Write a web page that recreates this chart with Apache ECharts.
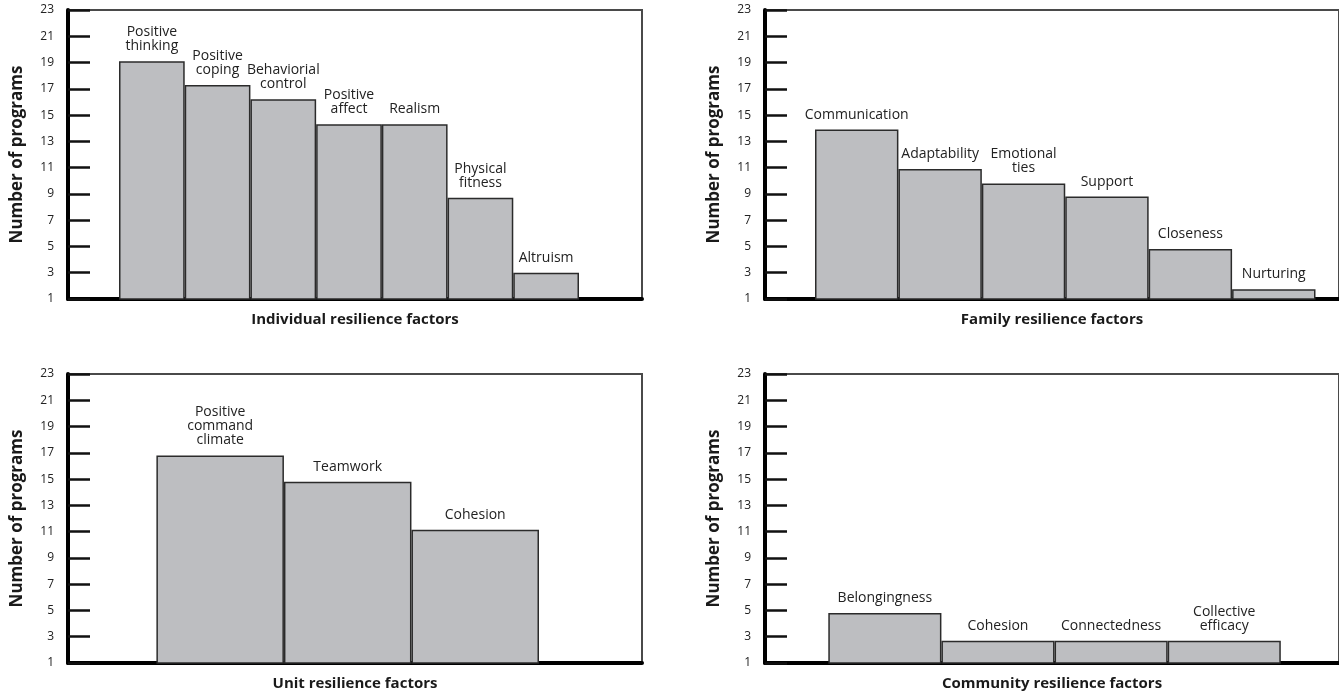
<!DOCTYPE html>
<html>
<head>
<meta charset="utf-8">
<script src="https://cdn.jsdelivr.net/npm/echarts@6/dist/echarts.min.js"></script>
<style>
    html, body { margin: 0; padding: 0; background: #fff; }
    #chart { width: 1339px; height: 693px; }
</style>
</head>
<body>
<div id="chart"></div>
<script>
// 数据
const individualFactors = ["Positive\nthinking", "Positive\ncoping", "Behaviorial\ncontrol", "Positive\naffect", "Realism", "Physical\nfitness", "Altruism"];
const individualCounts = [19.1, 17.3, 16.2, 14.3, 14.3, 8.7, 3.0];

const familyFactors = ["Communication", "Adaptability", "Emotional\nties", "Support", "Closeness", "Nurturing"];
const familyCounts = [13.9, 10.9, 9.8, 8.8, 4.8, 1.75];

const unitFactors = ["Positive\ncommand\nclimate", "Teamwork", "Cohesion"];
const unitCounts = [16.8, 14.8, 11.15];

const communityFactors = ["Belongingness", "Cohesion", "Connectedness", "Collective\nefficacy"];
const communityCounts = [4.8, 2.7, 2.7, 2.7];

const yMin = 1;
const yMax = 23;
const yStep = 2;
const yName = "Number of programs";

let chart = echarts.init(document.getElementById("chart"));

let grids = [];
let xAxes = [];
let yAxes = [];
let series = [];

// frame: outer grid, bars: inner grid
function addPanel(frame, inner, categories, values, xName) {
    let outerIdx = grids.length;
    grids.push(Object.assign({ show: true, borderColor: "#4a4a4a", borderWidth: 2 }, frame));
    xAxes.push({
        gridIndex: outerIdx,
        type: "value",
        min: 0,
        max: 1,
        name: xName,
        nameLocation: "middle",
        nameGap: 13,
        nameTextStyle: { fontFamily: "Open Sans", fontWeight: "bold", fontSize: 15, color: "#1a1a1a" },
        axisLine: { show: true, lineStyle: { color: "#000", width: 4 } },
        axisTick: { show: false },
        axisLabel: { show: false },
        splitLine: { show: false },
    });
    yAxes.push({
        gridIndex: outerIdx,
        type: "value",
        min: yMin,
        max: yMax,
        interval: yStep,
        name: yName,
        nameLocation: "middle",
        nameGap: 42,
        nameTextStyle: { fontFamily: "Open Sans", fontWeight: "bold", fontSize: 17, color: "#1a1a1a" },
        axisLine: { show: true, lineStyle: { color: "#000", width: 4 } },
        axisTick: { show: true, inside: true, length: 22, lineStyle: { color: "#111", width: 2.5 } },
        axisLabel: { margin: 14, fontFamily: "Open Sans", fontSize: 12, color: "#222" },
        splitLine: { show: false },
    });

    let innerIdx = grids.length;
    grids.push(inner);
    xAxes.push({
        gridIndex: innerIdx,
        type: "category",
        data: categories,
        show: false,
    });
    yAxes.push({
        gridIndex: innerIdx,
        type: "value",
        min: yMin,
        max: yMax,
        show: false,
    });
    series.push({
        type: "bar",
        xAxisIndex: innerIdx,
        yAxisIndex: innerIdx,
        barCategoryGap: "0%",
        data: values,
        itemStyle: { color: "#bdbec1", borderColor: "#2b2b2b", borderWidth: 1.5 },
        label: {
            show: true,
            position: "top",
            distance: 8,
            formatter: function (p) {
                return p.name;
            },
            fontFamily: "Open Sans",
            fontSize: 14,
            lineHeight: 14,
            color: "#222",
        },
        z: 1,
    });
}

addPanel({ left: 68, right: 697, top: 10, bottom: 394 }, { left: 119, right: 760, top: 10, bottom: 394 },
    individualFactors, individualCounts, "Individual resilience factors");
addPanel({ left: 765, right: -3, top: 10, bottom: 394 }, { left: 815, right: 23.5, top: 10, bottom: 394 },
    familyFactors, familyCounts, "Family resilience factors");
addPanel({ left: 68, right: 697, top: 374, bottom: 30 }, { left: 156.4, right: 800, top: 374, bottom: 30 },
    unitFactors, unitCounts, "Unit resilience factors");
addPanel({ left: 765, right: -3, top: 374, bottom: 30 }, { left: 828.3, right: 58.2, top: 374, bottom: 30 },
    communityFactors, communityCounts, "Community resilience factors");

let option = {
    animation: false,
    backgroundColor: "#fff",
    grid: grids,
    xAxis: xAxes,
    yAxis: yAxes,
    series: series,
};

chart.setOption(option);
window.addEventListener("resize", function () {
    chart.resize();
});
</script>
</body>
</html>
